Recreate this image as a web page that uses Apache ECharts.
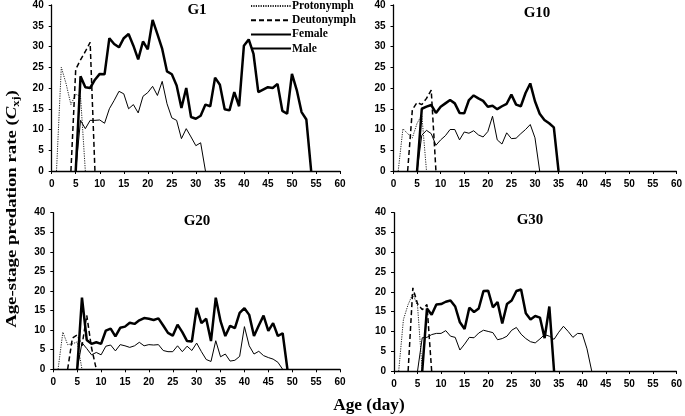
<!DOCTYPE html>
<html>
<head>
<meta charset="utf-8">
<script src="https://cdn.jsdelivr.net/npm/echarts@6/dist/echarts.min.js"></script>
<style>html,body{margin:0;padding:0;background:#fff;}#c{width:685px;height:416px;}</style>
</head>
<body>
<div id="c"></div>
<script>
// ---- data (age in days, predation rate) ----
const panelTitles = ['G1', 'G10', 'G20', 'G30'];
const stageNames = ['Protonymph', 'Deutonymph', 'Female', 'Male'];
const xTicks = [0, 5, 10, 15, 20, 25, 30, 35, 40, 45, 50, 55, 60];

// first age (day) of each series, then consecutive daily values
const g1ProtoStart = 1;  const g1Proto = [0, 25, 21, 16, 18.5, 18, 0];
const g1DeutoStart = 4;  const g1Deuto = [0, 24.5, 26.8, 28.8, 31, 0];
const g1FemaleStart = 5; const g1Female = [0, 22.8, 20.2, 20, 22, 23.4, 23.3, 32, 30.6, 29.8, 32, 33, 30.2, 26.9, 31.2, 29.3, 36.4, 33, 29.4, 24, 23.3, 20.6, 15.2, 20, 13, 12.6, 13.3, 16, 15.6, 22.5, 20.8, 14.9, 14.6, 19, 15.6, 30.2, 31.7, 28.2, 19, 19.6, 20.2, 20, 21, 14.5, 13.8, 23.4, 19.5, 14.2, 12.4, 0];
const g1MaleStart = 5;   const g1Male = [0, 12.2, 10.2, 12.2, 12.2, 12.3, 11.5, 15, 17, 19.2, 18.6, 15, 16, 14, 18, 18.9, 20.4, 18.2, 21.6, 16.2, 12.8, 12.2, 7.8, 10.2, 8.2, 6.1, 6.8, 0];

const g10ProtoStart = 1;  const g10Proto = [0, 10.2, 9, 8, 11.5, 13.5, 0];
const g10DeutoStart = 3;  const g10Deuto = [0, 14.8, 16.5, 16, 17.5, 19.5, 0];
const g10FemaleStart = 5; const g10Female = [0, 15, 15.5, 15.9, 14, 15.5, 16.3, 17.1, 16.3, 14, 13.9, 17.1, 18.2, 17.5, 16.9, 15.5, 15.7, 14.9, 15.6, 16.2, 18.4, 16, 15.6, 18.8, 21.1, 16.8, 13.8, 12.3, 11.5, 10.5, 0];
const g10MaleStart = 5;   const g10Male = [0, 8.6, 9.8, 9, 6.2, 7.5, 8.5, 10, 10, 7.5, 9.4, 9.1, 9.7, 8.7, 8.2, 9.5, 13.2, 7.5, 6.5, 9.2, 7.8, 7.9, 9, 10, 11.2, 8, 0];

const g20ProtoStart = 1;  const g20Proto = [0, 9.5, 6.3, 6.5, 7, 0];
const g20DeutoStart = 3;  const g20Deuto = [0, 8, 8.8, 6, 13.8, 5.5, 0];
const g20FemaleStart = 5; const g20Female = [0, 18.3, 7.5, 6.5, 6.9, 6.5, 9.9, 10.4, 8.4, 10.6, 10.9, 11.9, 11.6, 12.5, 13.1, 12.9, 12.6, 13, 11.2, 9.3, 8.6, 11.4, 9.5, 7.2, 7.1, 15.7, 11.8, 12.9, 7.2, 18.3, 12.3, 8.5, 11.1, 10.5, 14.4, 15.6, 13.9, 8.5, 11.2, 13.7, 9.8, 11.8, 8.5, 9.2, 0];
const g20MaleStart = 5;   const g20Male = [0, 6.8, 5.3, 3.7, 4.3, 3.7, 5.9, 6.2, 4.7, 6.3, 6, 5.6, 6, 6.9, 6, 6.3, 6.2, 6.3, 4.8, 4.5, 4.5, 6, 4.5, 5.9, 4.8, 6.7, 4.5, 2.5, 2, 7.3, 3.2, 3.9, 2.1, 2.3, 3.3, 10.9, 6, 3.9, 4.6, 3.5, 3, 2.6, 1.8, 0];

const g30ProtoStart = 1;  const g30Proto = [0, 13, 16.8, 19.5, 16.5, 0];
const g30DeutoStart = 3;  const g30Deuto = [0, 21, 17, 15.5, 16.8, 0];
const g30FemaleStart = 6; const g30Female = [0, 15.8, 14.2, 16.8, 16.9, 17.5, 17.8, 16.3, 12.3, 10.6, 16, 14.9, 15.8, 20.2, 20.3, 16.1, 17.4, 12, 16.9, 17.8, 20.2, 20.6, 14.6, 13, 13.9, 13.5, 8.3, 16.3, 0];
const g30MaleStart = 5;   const g30Male = [0, 8.4, 8.5, 9.2, 9.5, 9.5, 10.2, 8.8, 8.5, 5.3, 6.8, 8.5, 8.4, 9.6, 10.3, 10, 9.7, 7.9, 8.2, 8.8, 10.3, 11, 9.3, 8.2, 7.4, 7.1, 8.1, 9.2, 8.8, 8, 9.8, 11.3, 10, 8.5, 9.5, 9.4, 5.6, 0];

// ---- chart ----
const panels = [
  [[g1ProtoStart, g1Proto], [g1DeutoStart, g1Deuto], [g1FemaleStart, g1Female], [g1MaleStart, g1Male]],
  [[g10ProtoStart, g10Proto], [g10DeutoStart, g10Deuto], [g10FemaleStart, g10Female], [g10MaleStart, g10Male]],
  [[g20ProtoStart, g20Proto], [g20DeutoStart, g20Deuto], [g20FemaleStart, g20Female], [g20MaleStart, g20Male]],
  [[g30ProtoStart, g30Proto], [g30DeutoStart, g30Deuto], [g30FemaleStart, g30Female], [g30MaleStart, g30Male]]
];
const toPairs = (start, vals) => vals.map((v, i) => [start + i, v]);

const lineStyles = [
  { color: '#222', width: 1, type: [1.2, 1.2] },
  { color: '#000', width: 1.5, type: [5, 3] },
  { color: '#000', width: 2.5, type: 'solid' },
  { color: '#000', width: 1, type: 'solid' }
];

const grids = [
  { left: 51.7, right: 345, top: 4.5, bottom: 245 },
  { left: 393.5, right: 6, top: 5, bottom: 245 },
  { left: 53.3, right: 345, top: 212.7, bottom: 46.7 },
  { left: 394, right: 7.3, top: 212.7, bottom: 45 }
];

const tickFont = { fontFamily: 'Liberation Sans', fontWeight: 'bold', fontSize: 10, color: '#000' };
const axisLine = { show: true, lineStyle: { color: '#000', width: 1.3 } };

const xAxes = grids.map((g, i) => ({
  type: 'value', gridIndex: i, min: 0, max: 60, interval: 5,
  axisLine: axisLine, axisTick: { show: true, length: 3, lineStyle: { color: '#000', width: 1 } },
  axisLabel: Object.assign({ margin: 8, formatter: v => xTicks.includes(v) ? String(v) : '' }, tickFont),
  splitLine: { show: false }
}));
const yAxes = grids.map((g, i) => ({
  type: 'value', gridIndex: i, min: 0, max: 40, interval: 5,
  axisLine: axisLine, axisTick: { show: true, length: 3, lineStyle: { color: '#000', width: 1 } },
  axisLabel: Object.assign({ margin: 8 }, tickFont),
  splitLine: { show: false }
}));

const series = [];
panels.forEach((p, pi) => {
  p.forEach(([start, vals], si) => {
    series.push({
      name: stageNames[si], type: 'line', xAxisIndex: pi, yAxisIndex: pi,
      data: toPairs(start, vals), symbol: 'none', showSymbol: false,
      lineStyle: lineStyles[si], itemStyle: { color: '#000' },
      z: si === 2 ? 3 : 2, animation: false
    });
  });
});

const serif = 'Liberation Serif';
const titlePos = [[197, 10], [537, 13], [197, 221], [530, 220]];
const graphics = panelTitles.map((t, i) => ({
  type: 'text', x: titlePos[i][0], y: titlePos[i][1],
  style: { text: t, fontFamily: serif, fontWeight: 'bold', fontSize: 15, fill: '#000', align: 'center', verticalAlign: 'middle' }
}));
graphics.push({
  type: 'text', x: 369, y: 406, scaleX: 1.08,
  style: { text: 'Age (day)', fontFamily: serif, fontWeight: 'bold', fontSize: 16, fill: '#000', align: 'center', verticalAlign: 'middle' }
});
graphics.push({
  type: 'text', x: 12, y: 209, rotation: Math.PI / 2, scaleX: 1.25,
  style: {
    text: '{a|Age-stage predation rate (}{c|C}{s|xj}{a|)}',
    align: 'center', verticalAlign: 'middle', fill: '#000',
    rich: {
      a: { fontFamily: serif, fontWeight: 'bold', fontSize: 15, fill: '#000' },
      c: { fontFamily: serif, fontWeight: 'bold', fontStyle: 'italic', fontSize: 15, fill: '#000' },
      s: { fontFamily: serif, fontWeight: 'bold', fontSize: 10, fill: '#000', verticalAlign: 'bottom', padding: [8, 0, 0, 0] }
    }
  }
});

const chart = echarts.init(document.getElementById('c'), null, { renderer: 'canvas' });
chart.setOption({
  animation: false,
  backgroundColor: '#fff',
  grid: grids,
  xAxis: xAxes,
  yAxis: yAxes,
  legend: {
    data: stageNames, orient: 'vertical', left: 250, top: 0, padding: 0,
    itemWidth: 40, itemHeight: 14, itemGap: 2.2, selectedMode: false,
    itemStyle: { opacity: 0, borderWidth: 0 },
    textStyle: { fontFamily: serif, fontWeight: 'bold', fontSize: 11.5, color: '#000', padding: [0, 0, 0, -4] }
  },
  graphic: graphics,
  series: series
});
</script>
</body>
</html>
